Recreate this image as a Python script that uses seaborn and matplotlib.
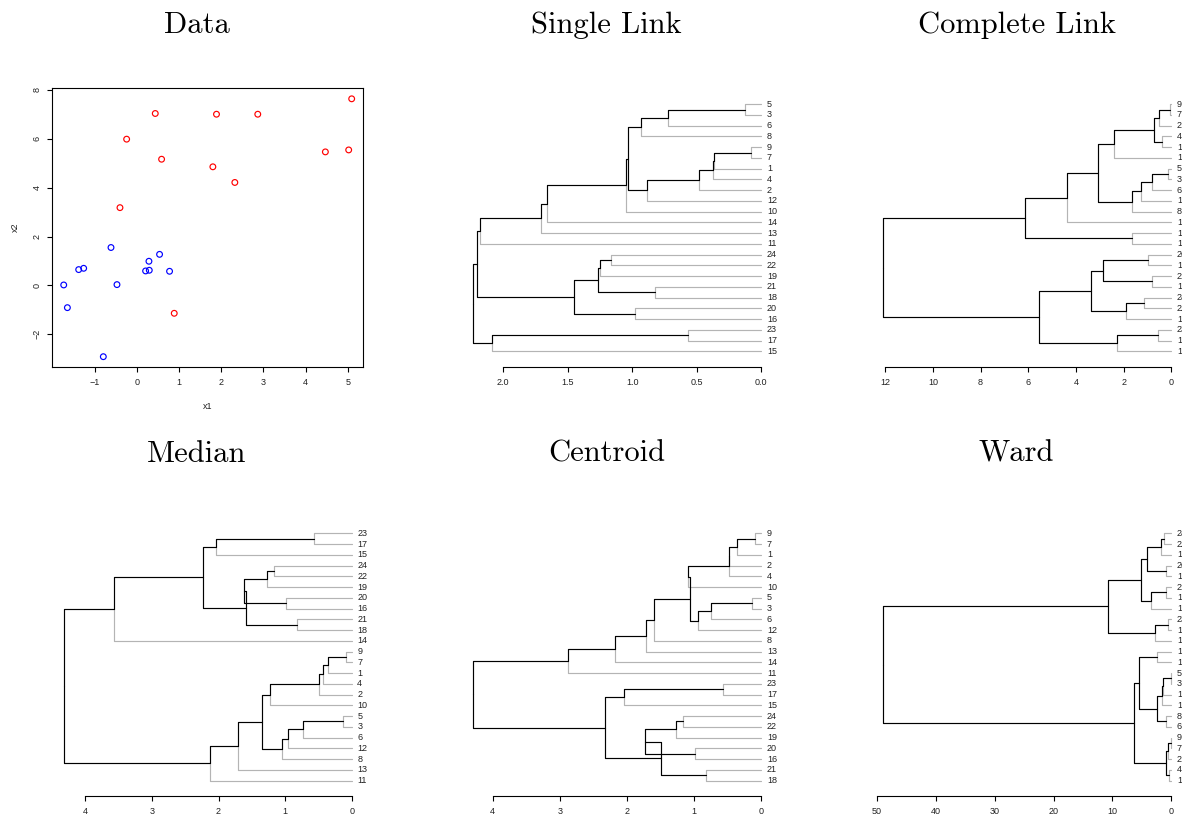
import numpy as np
import pandas as pd
import matplotlib
matplotlib.use("Agg")
import matplotlib.pyplot as plt
import seaborn as sns

# ---------------- data ----------------
# scatter points (x1, x2) and their class colour
x1 = [0.437, 1.889, 2.868, 5.095, -0.242, 0.587, 1.803, 2.324, 4.471, 5.024, -0.400, 0.887,
      -0.613, 0.539, -1.379, -1.261, 0.287, 0.208, 0.295, 0.776, -1.734, -0.471, -1.647, -0.795]
x2 = [7.03, 7.00, 7.00, 7.63, 5.98, 5.16, 4.85, 4.21, 5.46, 5.54, 3.18, -1.14,
      1.55, 1.27, 0.647, 0.70, 0.988, 0.592, 0.62, 0.578, 0.019, 0.033, -0.909, -2.914]
cls = ["red"] * 12 + ["blue"] * 12

# dendrograms: node = (upper child, lower child, merge height); leaf = observation number
S1 = (((5, 3, 0.126), 6, 0.719), 8, 0.933)
S2 = (((((9, 7, 0.080), 1, 0.369), 4, 0.376), 2, 0.485), 12, 0.886)
S3 = (((((S1, S2, 1.030), 10, 1.051), 14, 1.659), 13, 1.708), 11, 2.179)
S4 = ((((24, 22, 1.162), 19, 1.249), (21, 18, 0.827), 1.262), (20, 16, 0.979), 1.448)
S5 = ((23, 17, 0.567), 15, 2.087)
SINGLE_LINK = ((S3, S4, 2.202), S5, 2.231)

C1 = ((((9, 7, 0.07), 2, 0.53), (4, 1, 0.38), 0.73), 13, 2.41)
C2 = ((((5, 3, 0.12), 6, 0.80), 12, 1.26), 8, 1.64)
C3 = (((C1, C2, 3.08), 11, 4.38), (14, 10, 1.65), 6.13)
C4 = (((20, 16, 0.96), (21, 18, 0.81), 2.85), ((24, 22, 1.16), 19, 1.89), 3.38)
C5 = (C4, ((23, 17, 0.54), 15, 2.27), 5.57)
COMPLETE_LINK = (C3, C5, 12.08)

M1 = ((23, 17, 0.565), 15, 2.035)
M2 = ((((24, 22, 1.16), 19, 1.27), (20, 16, 0.98), 1.615), (21, 18, 0.825), 1.59)
M3 = ((M1, M2, 2.24), 14, 3.575)
M4 = (((((9, 7, 0.085), 1, 0.36), 4, 0.435), 2, 0.495), 10, 1.22)
M5 = ((((5, 3, 0.13), 6, 0.73), 12, 0.955), 8, 1.05)
M6 = (((M4, M5, 1.345), 13, 1.71), 11, 2.135)
MEDIAN = (M3, M6, 4.325)

K1 = (((((9, 7, 0.089), 1, 0.361), 2, 0.476), 4, 0.480), 10, 1.084)
K2 = (((5, 3, 0.139), 6, 0.747), 12, 0.946)
K3 = (((((K1, K2, 1.059), 8, 1.604), 13, 1.723), 14, 2.183), 11, 2.876)
K4 = ((23, 17, 0.564), 15, 2.04)
K5 = ((((24, 22, 1.168), 19, 1.267), (20, 16, 0.98), 1.728), (21, 18, 0.822), 1.49)
CENTROID = (K3, (K4, K5, 2.33), 4.287)

W1 = (((24, 22, 1.16), 19, 1.75), (20, 16, 0.98), 4.2)
W2 = ((21, 18, 0.83), 14, 3.4)
W3 = ((W1, W2, 5.2), ((23, 17, 0.56), 15, 2.75), 10.7)
W4 = ((((5, 3, 0.124), 12, 1.39), 10, 1.55), (8, 6, 0.94), 2.37)
W5 = ((13, 11, 2.44), W4, 5.54)
W6 = (((9, 7, 0.073), 2, 0.6), (4, 1, 0.38), 0.98)
WARD = (W3, (W5, W6, 6.3), 48.9)

titles = ["Data", "Single Link", "Complete Link", "Median", "Centroid", "Ward"]
trees = [SINGLE_LINK, COMPLETE_LINK, MEDIAN, CENTROID, WARD]
tick_values = [[0, 0.5, 1.0, 1.5, 2.0], [0, 2, 4, 6, 8, 10, 12], [0, 1, 2, 3, 4],
               [0, 1, 2, 3, 4], [0, 10, 20, 30, 40, 50]]
tick_formats = ["%.1f", "%g", "%g", "%g", "%g"]
x1_ticks = [-1, 0, 1, 2, 3, 4, 5]
x2_ticks = [-2, 0, 2, 4, 6, 8]

# ---------------- style ----------------
sns.set_theme(style="ticks")
plt.rcParams['font.family'] = ['Liberation Sans', 'DejaVu Sans']
plt.rcParams['axes.unicode_minus'] = True

GREY = "#b4b4b4"
SMALL = 6.5
W, H = 1182, 818
fig = plt.figure(figsize=(W / 100, H / 100), dpi=100)
fig.patch.set_facecolor("white")


def add_ax(l, t, w, h):
    return fig.add_axes([l / W, 1 - (t + h) / H, w / W, h / H])


def r_range(v):
    lo, hi = min(v), max(v)
    e = 0.04 * (hi - lo)
    return lo - e, hi + e


def style_ticks(ax):
    ax.tick_params(axis="both", length=3.6, width=0.8, pad=4.0, labelsize=SMALL,
                   color="black", labelcolor="#222222", direction="out")


# layout of panels (pixels)
col_left = [52.2, 461.8, 871.8]
row_top = [88.5, 517.7]
PW, PH = 311, 278.5
title_x = [196.5, 606.5, 1016.5]
title_y = [33, 462]

# ---------------- scatter ----------------
ax = add_ax(col_left[0], row_top[0], PW, PH)
df_pts = pd.DataFrame({"x1": x1, "x2": x2, "cls": cls})
sns.scatterplot(data=df_pts, x="x1", y="x2", hue="cls",
                palette={"red": "#ff0000", "blue": "#0000ff"},
                s=17, linewidth=0.85, legend=False, ax=ax)
pts = ax.collections[-1]
fc = pts.get_facecolors()
pts.set_edgecolors(fc)
pts.set_facecolors("none")
ax.set_xlim(*r_range(x1))
ax.set_ylim(*r_range(x2))
ax.set_xticks(x1_ticks)
ax.set_yticks(x2_ticks)
for sp in ax.spines.values():
    sp.set_visible(True)
    sp.set_linewidth(0.8)
    sp.set_color("black")
style_ticks(ax)
for lab in ax.get_yticklabels():
    lab.set_rotation(90)
    lab.set_va("center")
ax.set_xlabel("x1", fontsize=SMALL, labelpad=11, color="#222222")
ax.set_ylabel("x2", fontsize=SMALL, labelpad=9, color="#222222")


# ---------------- dendrograms ----------------
def dendro_frame(tree):
    leaves = []

    def collect(n):
        if isinstance(n, tuple):
            collect(n[0])
            collect(n[1])
        else:
            leaves.append(n)
    collect(tree)
    n = len(leaves)
    pos_of = {lab: n - i for i, lab in enumerate(leaves)}
    rows = []
    eid = [0]

    def walk(node):
        if not isinstance(node, tuple):
            return pos_of[node], 0.0
        a, b, h = node
        pa, ha = walk(a)
        pb, hb = walk(b)
        p = (pa + pb) / 2.0
        for pc, hc, c in ((pa, ha, a), (pb, hb, b)):
            kind = "inner" if isinstance(c, tuple) else "leaf"
            for hx, py in ((h, p), (h, pc), (hc, pc)):
                rows.append((eid[0], kind, hx, py))
            eid[0] += 1
        return p, h
    walk(tree)
    df = pd.DataFrame(rows, columns=["edge", "kind", "height", "pos"])
    return df, leaves, pos_of


panel_slots = [(0, 1), (0, 2), (1, 0), (1, 1), (1, 2)]
for tree, ticks, fmt, (r, c) in zip(trees, tick_values, tick_formats, panel_slots):
    ax = add_ax(col_left[c], row_top[r], PW, PH)
    df, leaves, pos_of = dendro_frame(tree)
    sns.lineplot(data=df, x="height", y="pos", units="edge", estimator=None,
                 hue="kind", hue_order=["leaf", "inner"],
                 palette={"leaf": GREY, "inner": "black"},
                 sort=False, legend=False, linewidth=0.85, ax=ax)
    top = tree[2]
    n = len(leaves)
    ax.set_xlim(top * 1.04, -0.04 * top)
    lo, hi = 0.5, n + 0.5
    e = 0.04 * (hi - lo)
    ax.set_ylim(lo - e, hi + e)
    for lab in leaves:
        ax.annotate(str(lab), xy=(0, pos_of[lab]), xytext=(4.0, 0),
                    textcoords="offset points", ha="left", va="center",
                    fontsize=SMALL, color="#222222", annotation_clip=False)
    ax.set_xticks(ticks)
    ax.set_xticklabels([fmt % t for t in ticks])
    ax.set_yticks([])
    ax.set_xlabel("")
    ax.set_ylabel("")
    for side in ("left", "right", "top"):
        ax.spines[side].set_visible(False)
    ax.spines["bottom"].set_bounds(min(ticks), max(ticks))
    ax.spines["bottom"].set_linewidth(0.8)
    ax.spines["bottom"].set_color("black")
    style_ticks(ax)
    ax.patch.set_alpha(0)

# ---------------- titles ----------------
for i, t in enumerate(titles):
    r, c = divmod(i, 3)
    fig.text(title_x[c] / W, 1 - title_y[r] / H, t, ha="center", va="baseline",
             fontsize=22, family="cmr10", color="black")

fig.savefig("out.png", dpi=100)
